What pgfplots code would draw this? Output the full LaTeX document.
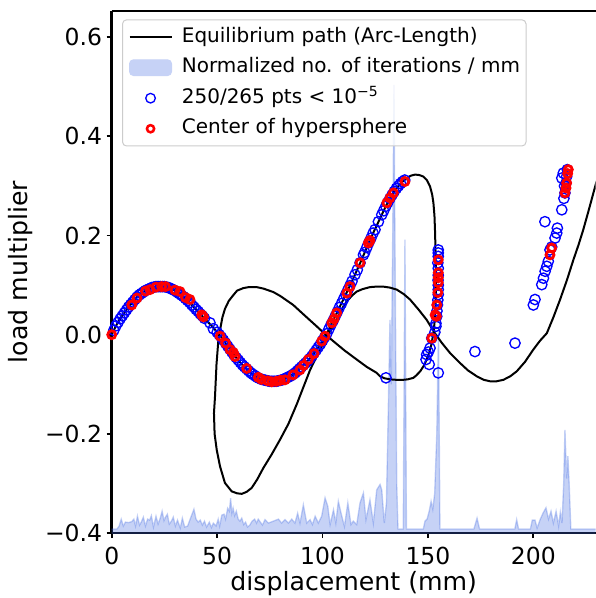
\documentclass[border=0pt]{standalone}
\usepackage{fontspec}
\setmainfont{DejaVu Sans}
\usepackage{pgfplots}
\pgfplotsset{compat=1.18}
\definecolor{royal}{RGB}{65,105,225}
\definecolor{legframe}{RGB}{204,204,204}
\pgfplotsset{
 legline/.style={legend image code/.code={\draw[##1, opacity=1] (0pt,0pt) -- (31.5pt,0pt);}},
 legpatch/.style={legend image code/.code={\fill[royal!30, opacity=1] (0pt,-5.9pt) rectangle (31.5pt,5.9pt);}},
 legmark/.style={legend image code/.code={\draw[##1, opacity=1] plot coordinates {(15.75pt,0pt)};}},
}
\begin{document}
\begin{tikzpicture}
\begin{axis}[
 name=ax,
 scale only axis, width=363pt, height=391.5pt,
 xmin=0, xmax=229.6, ymin=-0.4, ymax=0.653,
 axis x line*=box, axis y line*=left,
 axis line style={line width=1.9pt},
 xtick={0,50,100,150,200}, xticklabels={0,50,100,150,200},
 ytick={-0.4,-0.2,0,0.2,0.4,0.6}, yticklabels={−0.4,−0.2,0.0,0.2,0.4,0.6},
 tick align=outside, xtick pos=left, ytick pos=left,
 major tick length=3.75pt,
 every tick/.style={black, line width=1.4pt},
 ticklabel style={font=\fontsize{17.6}{20}\selectfont},
 xticklabel style={yshift=-3.5pt},
 xlabel={displacement (mm)}, ylabel={load multiplier},
 label style={font=\fontsize{18.9}{22}\selectfont},
 xlabel style={at={(axis description cs:0.5,-0.096)}, anchor=center},
 ylabel style={at={(axis description cs:-0.1874,0.5)}, anchor=center},
 legend style={at={(0.0213,0.984)}, anchor=north west, draw=legframe, line width=0.75pt,
   fill=white, fill opacity=0.8, text opacity=1, rounded corners=3pt,
   font=\fontsize{15}{18}\selectfont, inner xsep=4.5pt, inner ysep=5.5pt, row sep=8pt,
   nodes={inner sep=0pt, text height=11.2pt, text depth=3.7pt},
   /tikz/every odd column/.append style={column sep=7pt}},
 legend cell align=left,
]
% normalized iterations (fill)
\addplot[forget plot, draw=none, fill=royal, fill opacity=0.3] coordinates {
(0,-0.41)(0,-0.392)(2.5,-0.392)(3.5,-0.386)(4.5,-0.372)(5.5,-0.386)(6.5,-0.378)(8,-0.379)(9.5,-0.377)(10.5,-0.372)(11.3,-0.386)(12.2,-0.366)(13.2,-0.384)(14,-0.378)(15,-0.368)(16,-0.386)(17,-0.372)(18,-0.374)(18.8,-0.365)(19.8,-0.388)(21,-0.366)(22,-0.382)(23,-0.370)(23.9,-0.356)(24.8,-0.375)(25.5,-0.368)(26.4,-0.362)(27.3,-0.382)(28.3,-0.376)(29.2,-0.368)(30.2,-0.386)(31.2,-0.374)(32.5,-0.390)(33.5,-0.370)(34.6,-0.388)(36,-0.386)(37.2,-0.372)(38.1,-0.362)(39,-0.352)(40,-0.372)(41,-0.378)(42,-0.374)(43,-0.384)(44,-0.376)(45,-0.388)(46.3,-0.378)(47.3,-0.389)(48.2,-0.380)(49.5,-0.386)(50.5,-0.372)(51.2,-0.386)(52.2,-0.364)(53.3,-0.362)(54,-0.372)(55,-0.350)(55.8,-0.356)(56.4,-0.330)(57,-0.360)(57.6,-0.350)(58.3,-0.365)(59.1,-0.356)(60,-0.372)(60.8,-0.376)(61.7,-0.370)(62.6,-0.383)(63.5,-0.378)(64.4,-0.388)(65.5,-0.384)(66.6,-0.376)(67.8,-0.372)(68.7,-0.380)(69.5,-0.372)(70.5,-0.378)(71.5,-0.384)(72.7,-0.373)(74.3,-0.380)(76.7,-0.376)(79.1,-0.372)(80.6,-0.380)(82.2,-0.373)(83.8,-0.380)(85.4,-0.372)(86.9,-0.380)(88.2,-0.360)(89.3,-0.380)(90.9,-0.343)(92.5,-0.380)(94.1,-0.373)(95.2,-0.383)(96.5,-0.366)(98.0,-0.380)(99.6,-0.366)(101.2,-0.329)(102.5,-0.346)(103.6,-0.383)(105.2,-0.353)(106.3,-0.380)(107.5,-0.336)(108.8,-0.360)(110.4,-0.387)(112.0,-0.339)(113.5,-0.383)(114.6,-0.376)(116.2,-0.383)(117.8,-0.339)(119.4,-0.319)(120.6,-0.373)(122.5,-0.333)(124.1,-0.380)(125.7,-0.313)(127.3,-0.302)(128.1,-0.313)(129.3,-0.380)(130.3,-0.340)(131.2,-0.150)(132.0,0.030)(132.6,-0.100)(133.3,0.200)(133.9,0.504)(134.5,0.100)(135.2,-0.300)(135.8,-0.392)(138.3,-0.392)(139.1,0.192)(139.8,-0.392)(147.8,-0.392)(148.6,-0.376)(149.6,-0.372)(150.6,-0.356)(151.5,-0.336)(152.3,-0.352)(153.2,-0.320)(154.2,-0.200)(155.0,0.010)(155.7,-0.392)(171.8,-0.392)(173.3,-0.370)(174.5,-0.392)(191.2,-0.392)(192.1,-0.373)(193.0,-0.392)(198.6,-0.392)(199.5,-0.374)(200.8,-0.374)(201.8,-0.390)(203.3,-0.372)(204.7,-0.359)(206.0,-0.349)(207.2,-0.372)(208.4,-0.356)(209.5,-0.380)(210.8,-0.356)(212.0,-0.386)(212.8,-0.358)(213.6,-0.380)(214.4,-0.300)(215.0,-0.192)(215.8,-0.290)(216.4,-0.245)(217.0,-0.300)(217.8,-0.392)(231,-0.392)(231,-0.41)
};
% normalized iterations (edge line)
\addplot[forget plot, royal, opacity=0.3, line width=1pt] coordinates {
(0,-0.392)(2.5,-0.392)(3.5,-0.386)(4.5,-0.372)(5.5,-0.386)(6.5,-0.378)(8,-0.379)(9.5,-0.377)(10.5,-0.372)(11.3,-0.386)(12.2,-0.366)(13.2,-0.384)(14,-0.378)(15,-0.368)(16,-0.386)(17,-0.372)(18,-0.374)(18.8,-0.365)(19.8,-0.388)(21,-0.366)(22,-0.382)(23,-0.370)(23.9,-0.356)(24.8,-0.375)(25.5,-0.368)(26.4,-0.362)(27.3,-0.382)(28.3,-0.376)(29.2,-0.368)(30.2,-0.386)(31.2,-0.374)(32.5,-0.390)(33.5,-0.370)(34.6,-0.388)(36,-0.386)(37.2,-0.372)(38.1,-0.362)(39,-0.352)(40,-0.372)(41,-0.378)(42,-0.374)(43,-0.384)(44,-0.376)(45,-0.388)(46.3,-0.378)(47.3,-0.389)(48.2,-0.380)(49.5,-0.386)(50.5,-0.372)(51.2,-0.386)(52.2,-0.364)(53.3,-0.362)(54,-0.372)(55,-0.350)(55.8,-0.356)(56.4,-0.330)(57,-0.360)(57.6,-0.350)(58.3,-0.365)(59.1,-0.356)(60,-0.372)(60.8,-0.376)(61.7,-0.370)(62.6,-0.383)(63.5,-0.378)(64.4,-0.388)(65.5,-0.384)(66.6,-0.376)(67.8,-0.372)(68.7,-0.380)(69.5,-0.372)(70.5,-0.378)(71.5,-0.384)(72.7,-0.373)(74.3,-0.380)(76.7,-0.376)(79.1,-0.372)(80.6,-0.380)(82.2,-0.373)(83.8,-0.380)(85.4,-0.372)(86.9,-0.380)(88.2,-0.360)(89.3,-0.380)(90.9,-0.343)(92.5,-0.380)(94.1,-0.373)(95.2,-0.383)(96.5,-0.366)(98.0,-0.380)(99.6,-0.366)(101.2,-0.329)(102.5,-0.346)(103.6,-0.383)(105.2,-0.353)(106.3,-0.380)(107.5,-0.336)(108.8,-0.360)(110.4,-0.387)(112.0,-0.339)(113.5,-0.383)(114.6,-0.376)(116.2,-0.383)(117.8,-0.339)(119.4,-0.319)(120.6,-0.373)(122.5,-0.333)(124.1,-0.380)(125.7,-0.313)(127.3,-0.302)(128.1,-0.313)(129.3,-0.380)(130.3,-0.340)(131.2,-0.150)(132.0,0.030)(132.6,-0.100)(133.3,0.200)(133.9,0.504)(134.5,0.100)(135.2,-0.300)(135.8,-0.392)(138.3,-0.392)(139.1,0.192)(139.8,-0.392)(147.8,-0.392)(148.6,-0.376)(149.6,-0.372)(150.6,-0.356)(151.5,-0.336)(152.3,-0.352)(153.2,-0.320)(154.2,-0.200)(155.0,0.010)(155.7,-0.392)(171.8,-0.392)(173.3,-0.370)(174.5,-0.392)(191.2,-0.392)(192.1,-0.373)(193.0,-0.392)(198.6,-0.392)(199.5,-0.374)(200.8,-0.374)(201.8,-0.390)(203.3,-0.372)(204.7,-0.359)(206.0,-0.349)(207.2,-0.372)(208.4,-0.356)(209.5,-0.380)(210.8,-0.356)(212.0,-0.386)(212.8,-0.358)(213.6,-0.380)(214.4,-0.300)(215.0,-0.192)(215.8,-0.290)(216.4,-0.245)(217.0,-0.300)(217.8,-0.392)(231,-0.392)
};
% blue points
\addplot[forget plot, only marks, mark=o, blue, mark size=3.9pt, mark options={line width=1pt}] coordinates {
(1,.009)(2,.018)(3,.025)(4,.032)(5,.038)(6,.044)(7,.050)(8,.056)(9,.061)(10,.066)(11,.071)(12,.076)(13,.080)(14,.083)(15,.086)(16,.089)(17,.091)(18,.093)(19,.095)(20,.096)(21,.097)(22,.097)(23,.097)(24,.097)(25,.097)(26,.096)(27,.095)(28,.093)(29,.091)(30,.089)(31,.086)(32,.083)(33,.080)(34,.077)(35,.073)(36,.069)(37,.065)(38,.060)(39,.056)(40,.051)(41,.047)(42,.042)(43,.038)(44,.033)(46.6,.024)(48.2,.012)(50,.005)(51,.000)(52,-.005)(53,-.011)(54,-.017)(55,-.023)(56,-.029)(57,-.035)(58,-.041)(59,-.046)(60,-.051)(61,-.056)(62,-.061)(63,-.065)(64,-.069)(65,-.073)(66,-.077)(67,-.080)(68,-.083)(69,-.086)(70,-.088)(71,-.090)(72,-.091)(73,-.092)(74,-.093)(75,-.094)(76,-.094)(77,-.094)(78,-.094)(79,-.093)(80,-.092)(81,-.091)(82,-.089)(83,-.087)(84,-.085)(85,-.083)(86,-.080)(87,-.077)(88,-.073)(89,-.069)(90,-.065)(91,-.061)(92,-.057)(93,-.053)(94,-.048)(95,-.043)(96,-.037)(97,-.031)(98,-.025)(99,-.019)(100,-.012)(101,-.005)(102,.002)(103,.011)(104,.020)(105,.028)(106,.037)(107,.046)(108,.055)(109,.063)(110,.072)(111,.081)(112,.090)(113,.099)(114,.108)(115.4,.121)(116.5,.131)(117.8,.145)(119.4,.161)(120,.166)(121,.176)(122,.186)(123,.195)(124,.205)(124.9,.212)(126.5,.228)(128.1,.242)(129,.250)(130,.259)(131,.267)(132,.275)(133,.282)(134,.289)(135,.295)(136,.300)(137,.305)(138,.309)(139,.312)
(154.9,0.171)(154.9,0.165)(154.9,0.158)(154.7,0.145)(154.9,0.134)(154.9,0.120)(154.8,0.110)(154.9,0.100)(154.9,0.091)(154.9,0.081)(154.7,0.070)(154.5,0.060)(154.3,0.048)(154.2,0.037)(153.8,0.023)(153.8,0.017)(153.3,0.005)(151.8,-0.007)(151,-0.027)(150.2,-0.035)(149.4,-0.040)(149.1,-0.050)(150.6,-0.060)(154.9,-0.077)(130.1,-0.087)
(172.3,-0.034)(191.3,-0.017)(200,0.060)(200.8,0.071)(204,0.101)(204.8,0.114)(205.6,0.128)(206.4,0.138)(207.1,0.148)(207.9,0.171)(208.7,0.177)(210.3,0.195)(211.1,0.205)(211.4,0.215)(205.5,0.228)(213.5,0.252)(214.5,0.275)(215,0.286)(215.5,0.306)(215.8,0.319)(216.1,0.333)(214.2,0.326)(213.5,0.316)(214.8,0.300)
};
% red points
\addplot[forget plot, only marks, mark=o, red, mark size=3.0pt, mark options={line width=2.1pt}] coordinates {
(0,0)(9.5,0.060)(12,0.074)(16,0.088)(18.2,0.091)(21,0.096)(23.7,0.097)(25.5,0.097)(30,0.090)(32.4,0.087)(35,0.075)(37.1,0.071)(42.7,0.040)(43.5,0.036)(51.4,-0.003)(54,-0.017)(56.1,-0.030)(57.7,-0.036)(58.5,-0.044)(64,-0.068)(69.5,-0.086)(71,-0.090)(74,-0.093)(75.9,-0.095)(78,-0.094)(80,-0.092)(82.2,-0.091)(86,-0.081)(89.3,-0.071)(91,-0.062)(93.3,-0.050)(96,-0.038)(99.6,-0.013)(101.2,-0.003)(104.4,0.024)(105.5,0.032)(106.7,0.044)(111.5,0.084)(113,0.097)(117.8,0.145)(121.7,0.185)(122.5,0.190)(130.5,0.266)(132,0.276)(133.6,0.286)(139.1,0.309)
(154.9,0.151)(154.9,0.125)(154.9,0.115)(154.9,0.105)(154.7,0.085)(154.2,0.060)(154.0,0.037)(151.8,-0.007)(153.4,0.040)
(207.9,0.161)(208.7,0.175)(215,0.286)(215.5,0.296)(215.8,0.306)(216.3,0.325)(216.6,0.333)
};
% equilibrium path
\addplot[forget plot, black, line width=1.5pt] coordinates {
(0,0)(2,.018)(4,.032)(6,.044)(8,.056)(10,.066)(12,.076)(14,.083)(16,.089)(18,.093)(20,.096)(22,.097)(24,.097)(26,.096)(28,.093)(30,.089)(32,.083)(34,.077)(36,.069)(38,.060)(40,.051)(42,.042)(44,.033)(46,.024)(48,.015)(50,.005)(52,-.005)(54,-.017)(56,-.029)(58,-.041)(60,-.051)(62,-.061)(64,-.069)(66,-.077)(68,-.083)(70,-.088)(72,-.091)(74,-.093)(76,-.094)(78,-.094)(80,-.092)(82,-.089)(84,-.085)(86,-.080)(88,-.073)(90,-.065)(92,-.057)(94,-.048)(96,-.037)(98,-.025)(100,-.012)(102,.002)(104,.020)(106,.037)(108,.055)(110,.072)(112,.090)(114,.108)(116,.127)(118,.146)(120,.166)(122,.186)(124,.205)(126,.223)(128,.241)(130,.259)(132,.275)(134,.289)(136,.300)(138,.309)(140,.316)(142,.321)(144,.323)(146,.322)(147.8,.319)(149.5,.312)(151,.299)(152,.283)(152.6,.266)(153.1,.240)(153.4,.205)(153.7,.150)(153.8,.104)(153.7,.070)(153.4,.037)(152.8,.010)(151.8,-.017)(150.7,-.035)(149.4,-.050)(148,-.063)(146.3,-.074)(144.5,-.082)(143.1,-.087)(140.5,-.090)(138.3,-.091)(135,-.091)(132,-.090)(129.5,-.088)(127.3,-.084)(125.7,-.077)(121,-.065)(116.2,-.050)(110.5,-.032)(105.1,-.013)(101,.002)(97.2,.017)(92,.037)(86.1,.060)(80,.078)(76.7,.086)(72,.093)(68.8,.096)(65,.096)(62.4,.094)(59.5,.089)(57.7,.080)(55.5,.068)(53.7,.052)(52.5,.035)(51.4,.010)(50.6,-.010)(49.7,-.060)(49,-.124)(48.5,-.158)(48.8,-.200)(49.8,-.232)(51.4,-.266)(53.7,-.299)(56.9,-.316)(59.5,-.320)(61.7,-.321)(64,-.317)(66.4,-.309)(69,-.292)(71.9,-.269)(75.8,-.242)(79.8,-.212)(83.8,-.180)(87.8,-.140)(90.9,-.106)(94.1,-.071)(96.5,-.050)(98.8,-.030)(101.2,-.011)(103.6,.007)(106,.025)(108.3,.044)(110,.058)(111.5,.067)(114,.079)(116.2,.087)(119,.092)(122.5,.096)(125.5,.097)(128.8,.097)(132,.095)(135.2,.091)(138.5,.082)(141.5,.071)(145.5,.051)(149.4,.030)(153,.005)(156.5,-.016)(160.5,-.037)(165.2,-.057)(169,-.072)(173.2,-.084)(176.5,-.091)(179.5,-.094)(182.5,-.094)(185.8,-.091)(189,-.084)(192.1,-.074)(196,-.055)(200,-.030)(203.2,-.012)(206.4,.003)(209.5,.035)(212.7,.071)(216,.111)(219,.151)(221.5,.182)(223.7,.212)(226.2,.250)(228.5,.286)(231,.325)
};
\addlegendimage{black, line width=1.5pt, legline}
\addlegendentry{Equilibrium path (Arc-Length)}
\addlegendimage{legpatch}
\addlegendentry{Normalized no. of iterations / mm}
\addlegendimage{only marks, mark=o, blue, mark size=3.6pt, mark options={line width=1pt}, legmark}
\addlegendentry{250/265 pts < 10\textsuperscript{−5}}
\addlegendimage{only marks, mark=o, red, mark size=2.7pt, mark options={line width=1.9pt}, legmark}
\addlegendentry{Center of hypersphere}
\end{axis}
\pgfresetboundingbox
\path[use as bounding box] ([xshift=-83.8pt,yshift=-48.75pt]ax.south west) rectangle ([yshift=8.25pt]ax.north east);
\end{tikzpicture}
\end{document}
